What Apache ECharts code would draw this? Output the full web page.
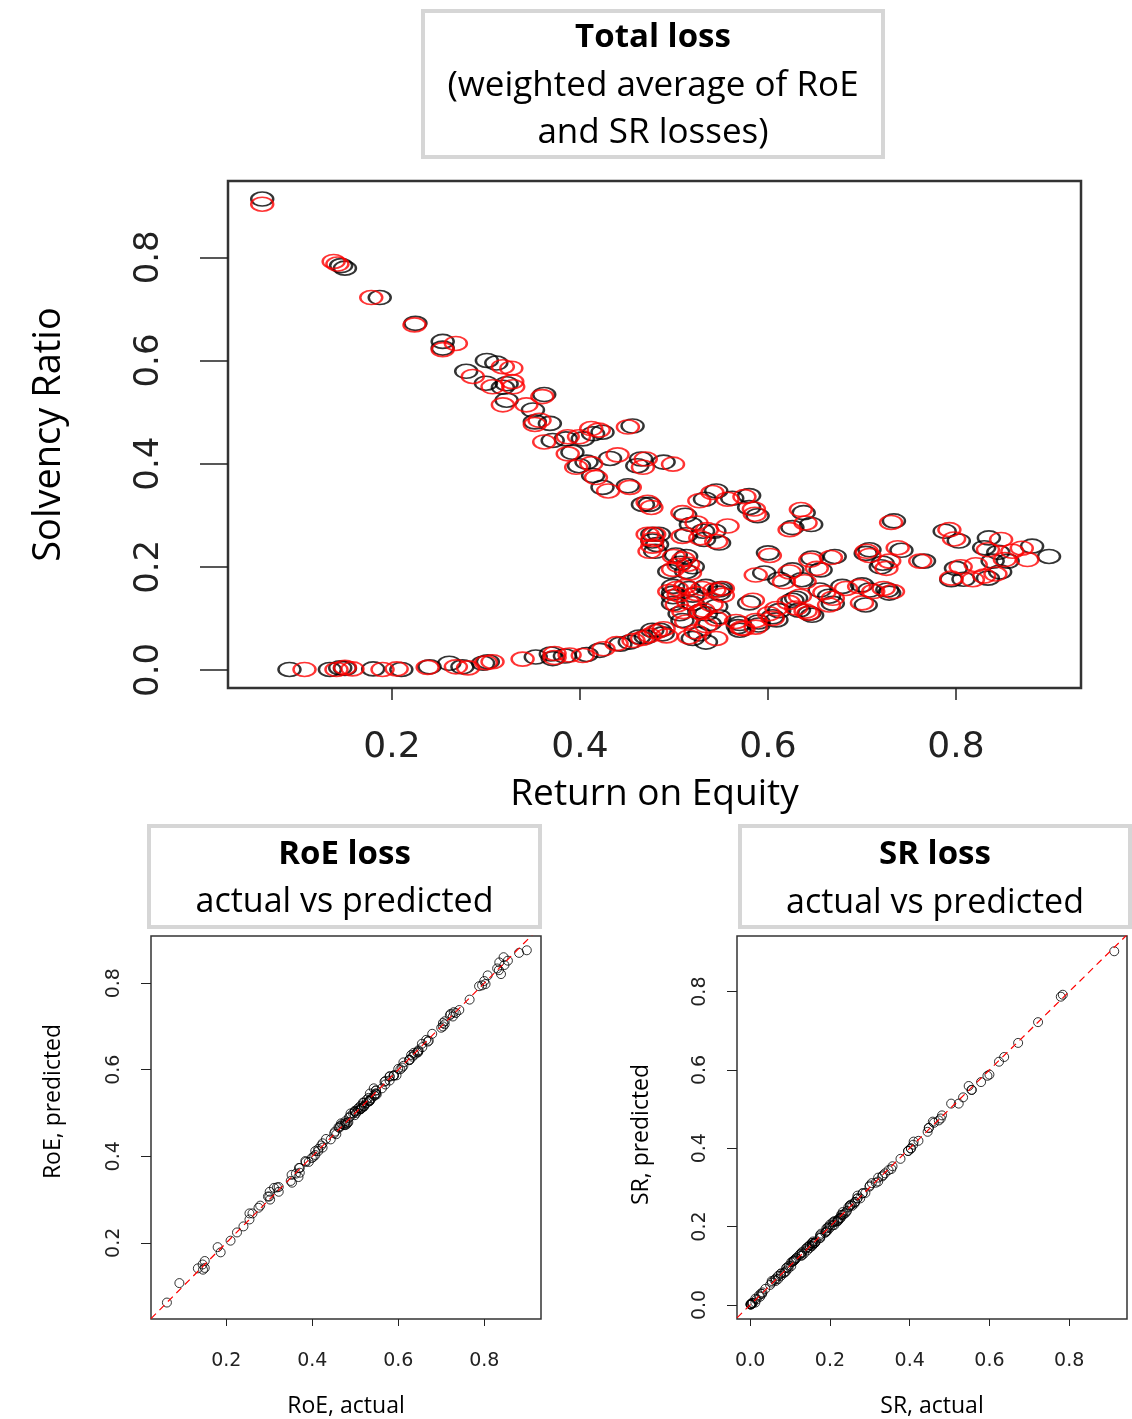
<!DOCTYPE html>
<html>
<head>
<meta charset="utf-8">
<script src="https://cdn.jsdelivr.net/npm/echarts@6/dist/echarts.min.js"></script>
<style>
  html, body { margin: 0; padding: 0; background: #fff; }
  #chart { width: 1132px; height: 1419px; }
</style>
</head>
<body>
<div id="chart"></div>
<script>
// actual (black) and predicted (red) values, same scenario order in each array
const roeActual = [
  0.062, 0.146, 0.150, 0.187, 0.225, 0.254, 0.254, 0.301, 0.311, 0.279,
  0.300, 0.322, 0.322, 0.318, 0.362, 0.350, 0.352, 0.368, 0.371, 0.385,
  0.403, 0.414, 0.424, 0.456, 0.392, 0.399, 0.407, 0.414, 0.424, 0.451,
  0.432, 0.465, 0.461, 0.467, 0.474, 0.477, 0.482, 0.489, 0.545, 0.533,
  0.562, 0.580, 0.580, 0.589, 0.512, 0.518, 0.531, 0.543, 0.532, 0.548,
  0.484, 0.513, 0.502, 0.513, 0.480, 0.477, 0.507, 0.495, 0.513, 0.520,
  0.600, 0.626, 0.646, 0.638, 0.647, 0.671, 0.626, 0.656, 0.596, 0.612,
  0.636, 0.708, 0.734, 0.742, 0.722, 0.720, 0.766, 0.788, 0.803, 0.835,
  0.881, 0.899, 0.855, 0.845, 0.830, 0.800, 0.839, 0.834, 0.795, 0.808,
  0.847, 0.499, 0.516, 0.534, 0.550, 0.499, 0.520, 0.545, 0.506, 0.534,
  0.548, 0.570, 0.580, 0.590, 0.605, 0.612, 0.626, 0.633, 0.647, 0.655,
  0.665, 0.679, 0.700, 0.708, 0.704, 0.727, 0.527, 0.485, 0.470, 0.509,
  0.527, 0.538, 0.477, 0.488, 0.520, 0.534, 0.570, 0.590, 0.453, 0.443,
  0.463, 0.421, 0.407, 0.371, 0.384, 0.548, 0.499, 0.520, 0.499, 0.091,
  0.134, 0.150, 0.180, 0.210, 0.240, 0.261, 0.275, 0.297, 0.302, 0.353,
  0.369, 0.145, 0.644, 0.630, 0.669, 0.729, 0.609, 0.568, 0.548, 0.704
];
const srActual = [
  0.913, 0.784, 0.779, 0.722, 0.672, 0.637, 0.624, 0.600, 0.595, 0.579,
  0.556, 0.555, 0.523, 0.548, 0.534, 0.504, 0.481, 0.478, 0.445, 0.448,
  0.448, 0.458, 0.461, 0.473, 0.422, 0.396, 0.403, 0.377, 0.354, 0.357,
  0.410, 0.409, 0.396, 0.321, 0.321, 0.263, 0.243, 0.403, 0.347, 0.331,
  0.333, 0.338, 0.315, 0.299, 0.300, 0.282, 0.269, 0.269, 0.253, 0.246,
  0.263, 0.262, 0.223, 0.220, 0.230, 0.250, 0.207, 0.191, 0.191, 0.200,
  0.227, 0.276, 0.282, 0.305, 0.217, 0.220, 0.194, 0.194, 0.188, 0.176,
  0.175, 0.233, 0.289, 0.232, 0.207, 0.200, 0.211, 0.269, 0.250, 0.256,
  0.240, 0.220, 0.211, 0.228, 0.237, 0.197, 0.211, 0.178, 0.175, 0.176,
  0.190, 0.162, 0.158, 0.162, 0.158, 0.142, 0.129, 0.123, 0.109, 0.109,
  0.103, 0.090, 0.130, 0.093, 0.103, 0.115, 0.135, 0.116, 0.106, 0.155,
  0.143, 0.162, 0.165, 0.155, 0.126, 0.155, 0.070, 0.077, 0.064, 0.096,
  0.113, 0.090, 0.077, 0.070, 0.061, 0.054, 0.077, 0.087, 0.054, 0.050,
  0.064, 0.038, 0.030, 0.022, 0.027, 0.149, 0.149, 0.145, 0.129, 0.001,
  0.001, 0.003, 0.002, 0.001, 0.006, 0.013, 0.006, 0.013, 0.016, 0.025,
  0.031, 0.004, 0.110, 0.139, 0.129, 0.149, 0.097, 0.084, 0.155, 0.226
];
const roePredicted = [
  0.062, 0.138, 0.142, 0.178, 0.224, 0.268, 0.254, 0.318, 0.327, 0.286,
  0.307, 0.329, 0.318, 0.328, 0.360, 0.343, 0.357, 0.352, 0.362, 0.387,
  0.399, 0.412, 0.420, 0.451, 0.387, 0.396, 0.412, 0.417, 0.430, 0.453,
  0.440, 0.470, 0.467, 0.476, 0.472, 0.472, 0.477, 0.499, 0.541, 0.527,
  0.557, 0.575, 0.585, 0.586, 0.509, 0.524, 0.535, 0.557, 0.528, 0.545,
  0.479, 0.509, 0.500, 0.510, 0.474, 0.477, 0.505, 0.499, 0.517, 0.515,
  0.602, 0.623, 0.640, 0.635, 0.645, 0.667, 0.623, 0.652, 0.587, 0.617,
  0.639, 0.705, 0.731, 0.738, 0.729, 0.726, 0.762, 0.793, 0.798, 0.848,
  0.870, 0.876, 0.852, 0.860, 0.834, 0.805, 0.821, 0.830, 0.795, 0.818,
  0.842, 0.503, 0.512, 0.530, 0.543, 0.505, 0.515, 0.540, 0.510, 0.528,
  0.545, 0.566, 0.584, 0.587, 0.601, 0.609, 0.622, 0.630, 0.643, 0.660,
  0.669, 0.683, 0.697, 0.712, 0.700, 0.723, 0.523, 0.489, 0.474, 0.513,
  0.531, 0.534, 0.481, 0.492, 0.516, 0.545, 0.574, 0.587, 0.457, 0.439,
  0.466, 0.425, 0.403, 0.373, 0.389, 0.552, 0.495, 0.524, 0.503, 0.107,
  0.141, 0.158, 0.190, 0.205, 0.238, 0.268, 0.281, 0.307, 0.300, 0.339,
  0.373, 0.150, 0.640, 0.634, 0.665, 0.733, 0.605, 0.572, 0.552, 0.708
];
const srPredicted = [
  0.903, 0.792, 0.787, 0.722, 0.669, 0.633, 0.621, 0.588, 0.585, 0.569,
  0.549, 0.549, 0.514, 0.559, 0.530, 0.514, 0.484, 0.476, 0.442, 0.452,
  0.452, 0.468, 0.465, 0.471, 0.419, 0.393, 0.400, 0.373, 0.347, 0.354,
  0.417, 0.409, 0.393, 0.315, 0.325, 0.263, 0.240, 0.399, 0.344, 0.328,
  0.331, 0.336, 0.312, 0.302, 0.305, 0.285, 0.272, 0.279, 0.256, 0.249,
  0.263, 0.259, 0.220, 0.215, 0.230, 0.253, 0.203, 0.195, 0.188, 0.205,
  0.222, 0.272, 0.285, 0.311, 0.213, 0.218, 0.190, 0.197, 0.184, 0.171,
  0.171, 0.230, 0.286, 0.237, 0.211, 0.197, 0.211, 0.272, 0.254, 0.253,
  0.236, 0.214, 0.214, 0.230, 0.233, 0.200, 0.204, 0.182, 0.178, 0.175,
  0.186, 0.158, 0.162, 0.158, 0.155, 0.146, 0.132, 0.127, 0.113, 0.112,
  0.099, 0.094, 0.135, 0.096, 0.109, 0.119, 0.131, 0.120, 0.110, 0.150,
  0.139, 0.158, 0.162, 0.152, 0.130, 0.158, 0.074, 0.080, 0.067, 0.093,
  0.116, 0.086, 0.074, 0.066, 0.064, 0.061, 0.080, 0.083, 0.057, 0.051,
  0.061, 0.041, 0.028, 0.024, 0.029, 0.145, 0.152, 0.148, 0.126, 0.001,
  0.001, 0.002, 0.001, 0.002, 0.005, 0.006, 0.004, 0.016, 0.014, 0.021,
  0.032, 0.005, 0.114, 0.143, 0.126, 0.152, 0.100, 0.081, 0.158, 0.222
];

// tick labels
const ticksNoZero = [0.2, 0.4, 0.6, 0.8];
const ticksWithZero = [0.0, 0.2, 0.4, 0.6, 0.8];

function pairs(xs, ys) {
  return xs.map((v, i) => [v, ys[i]]);
}

const chart = echarts.init(document.getElementById("chart"));

const tickFont = "DejaVu Sans";
const textFont = "Open Sans";

// R-like axis: box from grid border, outward ticks, labels only at given values
function rAxis(o) {
  return {
    type: "value",
    gridIndex: o.grid,
    min: o.min,
    max: o.max,
    axisLine: { show: false, onZero: false },
    splitLine: { show: false },
    axisTick: {
      customValues: o.ticks,
      length: o.tickLen,
      lineStyle: { color: "#222", width: o.tickWidth }
    },
    axisLabel: {
      customValues: o.ticks,
      formatter: (v) => v.toFixed(1),
      rotate: o.rotate || 0,
      fontSize: o.fontSize,
      fontFamily: tickFont,
      color: "#222",
      margin: o.margin
    },
    name: o.name,
    nameLocation: "middle",
    nameGap: o.nameGap,
    nameTextStyle: {
      fontSize: o.nameSize, fontFamily: textFont, color: "#000",
      padding: o.namePad || 0
    }
  };
}

function titleBox(x, y, w, h, lines) {
  const els = [{
    type: "rect",
    shape: { x: x, y: y, width: w, height: h },
    style: { fill: "#fff", stroke: "#d6d6d6", lineWidth: 4 }
  }];
  lines.forEach((l) => {
    els.push({
      type: "text",
      style: {
        text: l.text,
        x: x + w / 2,
        y: l.y,
        font: (l.bold ? "bold " : "") + l.size + "px \"" + textFont + "\"",
        fill: "#000",
        align: "center",
        verticalAlign: "middle",
        textAlign: "center",
        textVerticalAlign: "middle"
      }
    });
  });
  return els;
}

const roeXRange = [0.025, 0.932];
const roeYRange = [0.024, 0.909];
const srXRange = [-0.033, 0.945];
const srYRange = [-0.036, 0.942];

let option = {
  animation: false,
  backgroundColor: "#fff",
  grid: [
    { left: 228, top: 181, width: 853, height: 507, show: true, borderColor: "#333", borderWidth: 2.5 },
    { left: 151, top: 936, width: 390, height: 385, show: true, borderColor: "#333", borderWidth: 1.5 },
    { left: 737, top: 936, width: 390, height: 385, show: true, borderColor: "#333", borderWidth: 1.5 }
  ],
  xAxis: [
    rAxis({ grid: 0, min: 0.0256, max: 0.933, ticks: ticksNoZero, tickLen: 12, tickWidth: 1.5,
      fontSize: 36, margin: 42, name: "Return on Equity", nameGap: 88, nameSize: 37 }),
    rAxis({ grid: 1, min: roeXRange[0], max: roeXRange[1], ticks: ticksNoZero, tickLen: 7, tickWidth: 1,
      fontSize: 19, margin: 33, name: "RoE, actual", nameGap: 76, nameSize: 23 }),
    rAxis({ grid: 2, min: srXRange[0], max: srXRange[1], ticks: ticksWithZero, tickLen: 7, tickWidth: 1,
      fontSize: 19, margin: 33, name: "SR, actual", nameGap: 76, nameSize: 23 })
  ],
  yAxis: [
    rAxis({ grid: 0, min: -0.035, max: 0.948, ticks: ticksWithZero, tickLen: 28, tickWidth: 1.5,
      rotate: 90, fontSize: 34, margin: 62, name: "Solvency Ratio", nameGap: 160, nameSize: 38 }),
    rAxis({ grid: 1, min: roeYRange[0], max: roeYRange[1], ticks: ticksNoZero, tickLen: 10, tickWidth: 1,
      rotate: 90, fontSize: 19, margin: 27, name: "RoE, predicted", nameGap: 86, nameSize: 23,
      namePad: [0, 0, 0, 52] }),
    rAxis({ grid: 2, min: srYRange[0], max: srYRange[1], ticks: ticksWithZero, tickLen: 10, tickWidth: 1,
      rotate: 90, fontSize: 19, margin: 27, name: "SR, predicted", nameGap: 84, nameSize: 23,
      namePad: [0, 14, 0, 0] })
  ],
  series: [
    {
      type: "scatter", xAxisIndex: 0, yAxisIndex: 0,
      data: pairs(roeActual, srActual),
      symbol: "circle", symbolSize: [22, 14],
      itemStyle: { color: "rgba(0,0,0,0)", borderColor: "#000", borderWidth: 2 }
    },
    {
      type: "scatter", xAxisIndex: 0, yAxisIndex: 0,
      data: pairs(roePredicted, srPredicted),
      symbol: "circle", symbolSize: [22, 14],
      itemStyle: { color: "rgba(0,0,0,0)", borderColor: "#ff0000", borderWidth: 2 }
    },
    {
      type: "scatter", xAxisIndex: 1, yAxisIndex: 1,
      data: pairs(roeActual, roePredicted),
      symbol: "circle", symbolSize: 9,
      itemStyle: { color: "rgba(0,0,0,0)", borderColor: "#000", borderWidth: 1 }
    },
    {
      // y = x reference line
      type: "line", xAxisIndex: 1, yAxisIndex: 1, silent: true, clip: true,
      data: [[roeXRange[0], roeXRange[0]], [roeXRange[1], roeXRange[1]]],
      symbol: "none",
      lineStyle: { color: "#ff0000", width: 1.2, type: [7, 5] }
    },
    {
      type: "scatter", xAxisIndex: 2, yAxisIndex: 2,
      data: pairs(srActual, srPredicted),
      symbol: "circle", symbolSize: 9,
      itemStyle: { color: "rgba(0,0,0,0)", borderColor: "#000", borderWidth: 1 }
    },
    {
      type: "line", xAxisIndex: 2, yAxisIndex: 2, silent: true, clip: true,
      data: [[srXRange[0], srXRange[0]], [srXRange[1], srXRange[1]]],
      symbol: "none",
      lineStyle: { color: "#ff0000", width: 1.2, type: [7, 5] }
    }
  ],
  graphic: [].concat(
    titleBox(423, 11, 460, 146, [
      { text: "Total loss", y: 38, size: 33, bold: true },
      { text: "(weighted average of RoE", y: 86, size: 35 },
      { text: "and SR losses)", y: 133, size: 35 }
    ]),
    titleBox(149, 826, 391, 101, [
      { text: "RoE loss", y: 855, size: 33, bold: true },
      { text: "actual vs predicted", y: 902, size: 34 }
    ]),
    titleBox(740, 826, 390, 101, [
      { text: "SR loss", y: 855, size: 33, bold: true },
      { text: "actual vs predicted", y: 903, size: 34 }
    ])
  )
};

chart.setOption(option);
</script>
</body>
</html>
